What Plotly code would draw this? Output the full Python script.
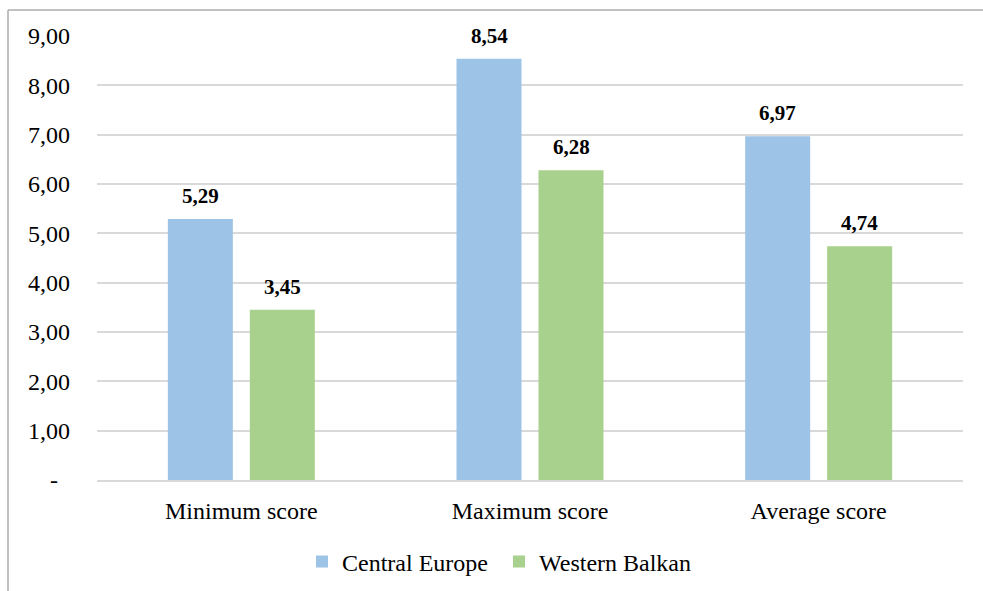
import plotly.graph_objects as go

categories = ["Minimum score", "Maximum score", "Average score"]
central_europe = [5.29, 8.54, 6.97]
western_balkan = [3.45, 6.28, 4.74]
ytick_vals = [0, 1, 2, 3, 4, 5, 6, 7, 8, 9]
ytick_text = ["-\u2007", "1,00", "2,00", "3,00", "4,00", "5,00", "6,00", "7,00", "8,00", "9,00"]

W, H = 983, 591
FONT = "Liberation Serif, Times New Roman, serif"
BLUE = "#9DC3E6"
GREEN = "#A9D18E"

x0, x1 = 97 / W, 963 / W
y0, y1 = 1 - 480 / H, 1 - 36 / H

fig = go.Figure()
fig.add_trace(go.Bar(name="Central Europe", x=categories, y=central_europe,
                     marker=dict(color=BLUE, line=dict(width=0))))
fig.add_trace(go.Bar(name="Western Balkan", x=categories, y=western_balkan,
                     marker=dict(color=GREEN, line=dict(width=0))))

def fmt(v):
    return f"{v:.2f}".replace(".", ",")

annotations = []
for series, shift in ((central_europe, -41), (western_balkan, 41)):
    for c, v in zip(categories, series):
        annotations.append(dict(x=c, y=v, xref="x", yref="y", text=f"<b>{fmt(v)}</b>",
                                showarrow=False, xshift=shift, yshift=23, yanchor="middle",
                                font=dict(family=FONT, size=21, color="#000000")))

fig.update_layout(
    width=W, height=H,
    margin=dict(l=0, r=0, t=0, b=0, autoexpand=False),
    paper_bgcolor="white", plot_bgcolor="white",
    barmode="group", bargap=0.432, bargroupgap=0.207,
    font=dict(family=FONT, size=24, color="#000000"),
    xaxis=dict(domain=[x0, x1], showgrid=False, showline=True, linecolor="#D9D9D9",
               linewidth=1.5, ticks="", tickfont=dict(size=24), ticklabelstandoff=8,
               automargin=False),
    yaxis=dict(domain=[y0, y1], range=[0, 9], tickvals=ytick_vals, ticktext=ytick_text,
               showgrid=True, gridcolor="#D9D9D9", gridwidth=1.5, zeroline=False,
               showline=False, ticks="", tickfont=dict(size=24), ticklabelstandoff=26,
               automargin=False),
    legend=dict(orientation="h", x=302 / W, xanchor="left", y=1 - 562 / H, yanchor="middle",
                font=dict(size=24), bgcolor="rgba(0,0,0,0)", itemwidth=30,
                entrywidth=152, entrywidthmode="pixels"),
    annotations=annotations,
    shapes=[
        dict(type="line", xref="paper", yref="paper", x0=8 / W, x1=1, y0=1 - 10 / H, y1=1 - 10 / H,
             line=dict(color="#ADADAD", width=1.5)),
        dict(type="line", xref="paper", yref="paper", x0=8 / W, x1=8 / W, y0=0, y1=1 - 10 / H,
             line=dict(color="#ADADAD", width=1.5)),
    ],
    showlegend=True,
)

fig.write_html("out.html")
